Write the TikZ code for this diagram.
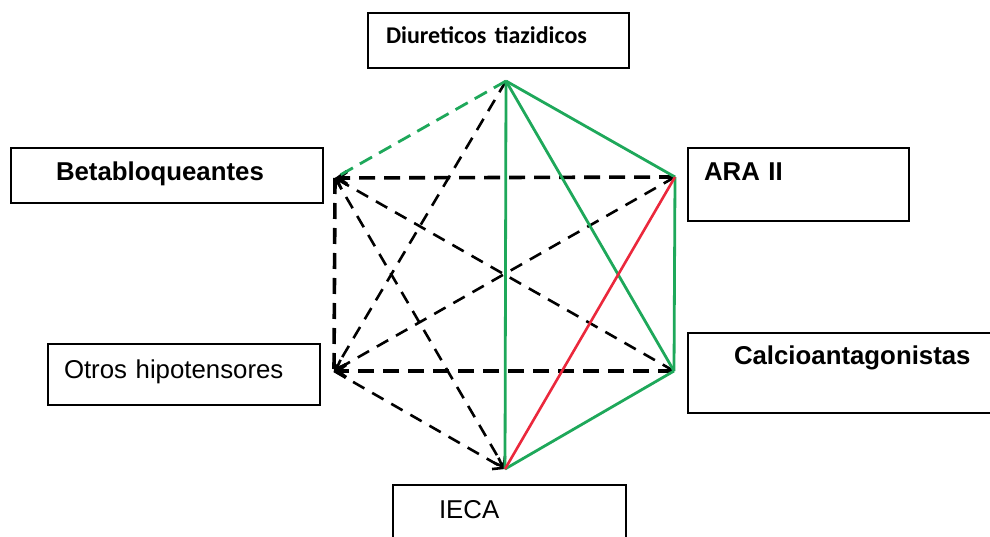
\documentclass[tikz,border=0pt]{standalone}
\usepackage{fontspec}
\setmainfont{Liberation Sans}
\newfontfamily\calibri{Carlito}
\usetikzlibrary{arrows.meta}
\definecolor{okgreen}{RGB}{30,168,90}
\definecolor{badred}{RGB}{235,40,60}

\begin{document}
\begin{tikzpicture}[x=1pt, y=-1pt,
    drug/.style={draw, line width=2pt, inner ysep=0pt, anchor=north west, align=left,
      font=\fontsize{25.8}{30}\selectfont},
    boldname/.style={font=\bfseries\fontsize{25.8}{30}\selectfont},
    strong/.style={line width=3.6pt, dash pattern=on 16pt off 9pt},
    weak/.style={line width=2.6pt, dash pattern=on 13pt off 9pt},
    good/.style={okgreen, line width=2.8pt},
    bad/.style={badred, line width=2.6pt},
    >={Straight Barb[length=9pt,width=13pt]}]

    \useasboundingbox (0,0) rectangle (990,537);

    % corners of the hexagon
    \coordinate (vdiu) at (506,81);
    \coordinate (vbeta) at (335,178);
    \coordinate (vara) at (675,177);
    \coordinate (votr) at (334,371);
    \coordinate (vcal) at (674,371);
    \coordinate (vieca) at (505,469);

    % boxes
    \node[drug, font=\calibri\bfseries\fontsize{24}{28}\selectfont, inner xsep=18pt,
      text width=225pt, text height=31pt, text depth=24pt] (diu) at (367,12) {Diureticos tiazidicos};
    \node[drug, boldname, inner xsep=45pt, text width=222pt, text height=33pt, text depth=22pt]
      (beta) at (10,147) {Betabloqueantes};
    \node[drug, boldname, inner xsep=16pt, text width=189pt, text height=33pt, text depth=40pt]
      (ara) at (687,147) {ARA II};
    \node[drug, boldname, inner xsep=46pt, text width=251pt, text height=31pt, text depth=49pt]
      (cal) at (687,332) {Calcioantagonistas};
    \node[drug, inner xsep=16pt, text width=240pt, text height=34pt, text depth=27pt]
      (otr) at (47,343) {Otros hipotensores};
    \node[drug, inner xsep=46pt, text width=141pt, text height=33pt, text depth=43pt]
      (ieca) at (392,484) {IECA};

    % dashed links
    \draw[strong] (vbeta) -- (votr);
    \draw[strong, ->] (vara) -- (vbeta);
    \draw[strong, ->] (vcal) -- (votr);
    \draw[weak, ->] (vdiu) -- (votr);
    \draw[weak, ->] (vcal) -- (vbeta);
    \draw[weak, ->] (vara) -- (votr);
    \draw[weak, ->] (vbeta) -- (vieca);
    \draw[weak, ->] (votr) -- (vieca);

    % green and red links
    \draw[good, dash pattern=on 14pt off 8pt] (vdiu) -- (vbeta);
    \draw[good] (vdiu) -- (vara);
    \draw[good] (vdiu) -- (vcal);
    \draw[good] (vdiu) -- (vieca);
    \draw[good] (vara) -- (vcal);
    \draw[good] (vcal) -- (vieca);
    \draw[bad] (vieca) -- (vara);

\end{tikzpicture}
\end{document}
